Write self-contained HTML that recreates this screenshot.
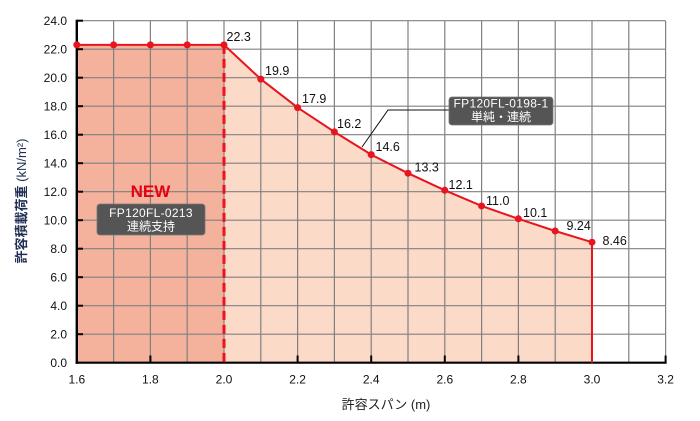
<!DOCTYPE html>
<html><head><meta charset="utf-8"><style>
html,body{margin:0;padding:0;background:#fff;}
svg{display:block;}
text{font-family:"Liberation Sans","Noto Sans CJK JP",sans-serif;}
</style></head><body>
<svg width="700" height="421" viewBox="0 0 700 421" xmlns="http://www.w3.org/2000/svg">
<!-- fills -->
<rect x="76.8" y="44.9" width="147.2" height="317.8" fill="#f4b19c"/>
<polygon fill="#fcdac8" points="224,44.9 260.8,79.1 297.6,107.6 334.4,131.9 371.2,154.65 408,173.2 444.8,190.3 481.6,205.95 518.4,218.8 555.2,231 592,242.2 592,362.7 224,362.7"/>
<!-- grid -->
<g stroke="#808080" stroke-width="1.2" fill="none">
<line x1="76.8" y1="20.7" x2="665.6" y2="20.7"/>
<line x1="76.8" y1="49.2" x2="665.6" y2="49.2"/>
<line x1="76.8" y1="77.7" x2="665.6" y2="77.7"/>
<line x1="76.8" y1="106.2" x2="665.6" y2="106.2"/>
<line x1="76.8" y1="134.7" x2="665.6" y2="134.7"/>
<line x1="76.8" y1="163.2" x2="665.6" y2="163.2"/>
<line x1="76.8" y1="191.7" x2="665.6" y2="191.7"/>
<line x1="76.8" y1="220.2" x2="665.6" y2="220.2"/>
<line x1="76.8" y1="248.7" x2="665.6" y2="248.7"/>
<line x1="76.8" y1="277.2" x2="665.6" y2="277.2"/>
<line x1="76.8" y1="305.7" x2="665.6" y2="305.7"/>
<line x1="76.8" y1="334.2" x2="665.6" y2="334.2"/>
<line x1="113.6" y1="20.7" x2="113.6" y2="362.7"/>
<line x1="150.4" y1="20.7" x2="150.4" y2="362.7"/>
<line x1="187.2" y1="20.7" x2="187.2" y2="362.7"/>
<line x1="224" y1="20.7" x2="224" y2="362.7"/>
<line x1="260.8" y1="20.7" x2="260.8" y2="362.7"/>
<line x1="297.6" y1="20.7" x2="297.6" y2="362.7"/>
<line x1="334.4" y1="20.7" x2="334.4" y2="362.7"/>
<line x1="371.2" y1="20.7" x2="371.2" y2="362.7"/>
<line x1="408" y1="20.7" x2="408" y2="362.7"/>
<line x1="444.8" y1="20.7" x2="444.8" y2="362.7"/>
<line x1="481.6" y1="20.7" x2="481.6" y2="362.7"/>
<line x1="518.4" y1="20.7" x2="518.4" y2="362.7"/>
<line x1="555.2" y1="20.7" x2="555.2" y2="362.7"/>
<line x1="592" y1="20.7" x2="592" y2="362.7"/>
<line x1="628.8" y1="20.7" x2="628.8" y2="362.7"/>
<line x1="665.6" y1="20.7" x2="665.6" y2="362.7"/>
</g>
<!-- axes -->
<g stroke="#000" fill="none">
<line x1="76.8" y1="19.7" x2="76.8" y2="363.7" stroke-width="2.4"/>
<line x1="75.6" y1="362.7" x2="666.6" y2="362.7" stroke-width="2.2"/>
<g stroke-width="2">
<line x1="76.8" y1="20.7" x2="83" y2="20.7"/>
<line x1="76.8" y1="49.2" x2="83" y2="49.2"/>
<line x1="76.8" y1="77.7" x2="83" y2="77.7"/>
<line x1="76.8" y1="106.2" x2="83" y2="106.2"/>
<line x1="76.8" y1="134.7" x2="83" y2="134.7"/>
<line x1="76.8" y1="163.2" x2="83" y2="163.2"/>
<line x1="76.8" y1="191.7" x2="83" y2="191.7"/>
<line x1="76.8" y1="220.2" x2="83" y2="220.2"/>
<line x1="76.8" y1="248.7" x2="83" y2="248.7"/>
<line x1="76.8" y1="277.2" x2="83" y2="277.2"/>
<line x1="76.8" y1="305.7" x2="83" y2="305.7"/>
<line x1="76.8" y1="334.2" x2="83" y2="334.2"/>
<line x1="150.4" y1="362.7" x2="150.4" y2="355.5"/>
<line x1="224" y1="362.7" x2="224" y2="355.5"/>
<line x1="297.6" y1="362.7" x2="297.6" y2="355.5"/>
<line x1="371.2" y1="362.7" x2="371.2" y2="355.5"/>
<line x1="444.8" y1="362.7" x2="444.8" y2="355.5"/>
<line x1="518.4" y1="362.7" x2="518.4" y2="355.5"/>
<line x1="592" y1="362.7" x2="592" y2="355.5"/>
<line x1="665.6" y1="362.7" x2="665.6" y2="355.5"/>
</g>
</g>
<!-- red series -->
<g stroke="#e8141e" fill="none" stroke-width="2">
<polyline points="76.8,44.9 224,44.9 260.8,79.1 297.6,107.6 334.4,131.9 371.2,154.65 408,173.2 444.8,190.3 481.6,205.95 518.4,218.8 555.2,231 592,242.2 592,362.7"/>
<line x1="224" y1="44.9" x2="224" y2="362.7" stroke-width="3" stroke-dasharray="9,5"/>
</g>
<g fill="#e8141e">
<circle cx="76.8" cy="44.9" r="3.5"/><circle cx="113.6" cy="44.9" r="3.5"/><circle cx="150.4" cy="44.9" r="3.5"/><circle cx="187.2" cy="44.9" r="3.5"/><circle cx="224" cy="44.9" r="3.5"/>
<circle cx="260.8" cy="79.1" r="3.5"/><circle cx="297.6" cy="107.6" r="3.5"/><circle cx="334.4" cy="131.9" r="3.5"/><circle cx="371.2" cy="154.65" r="3.5"/><circle cx="408" cy="173.2" r="3.5"/><circle cx="444.8" cy="190.3" r="3.5"/><circle cx="481.6" cy="205.95" r="3.5"/><circle cx="518.4" cy="218.8" r="3.5"/><circle cx="555.2" cy="231" r="3.5"/><circle cx="592" cy="242.2" r="3.5"/>
</g>
<!-- data labels -->
<g font-size="12.5" fill="#111">
<text x="226.5" y="41">22.3</text>
<text x="265" y="75">19.9</text>
<text x="302" y="103">17.9</text>
<text x="337" y="128">16.2</text>
<text x="375.5" y="151">14.6</text>
<text x="414.5" y="171.5">13.3</text>
<text x="448.5" y="189">12.1</text>
<text x="486" y="205">11.0</text>
<text x="523" y="217">10.1</text>
<text x="566.5" y="230">9.24</text>
<text x="602.5" y="245">8.46</text>
</g>
<!-- y tick labels -->
<g font-size="12" fill="#111" text-anchor="end">
<text x="67" y="25">24.0</text>
<text x="67" y="53.5">22.0</text>
<text x="67" y="82">20.0</text>
<text x="67" y="110.5">18.0</text>
<text x="67" y="139">16.0</text>
<text x="67" y="167.5">14.0</text>
<text x="67" y="196">12.0</text>
<text x="67" y="224.5">10.0</text>
<text x="67" y="253">8.0</text>
<text x="67" y="281.5">6.0</text>
<text x="67" y="310">4.0</text>
<text x="67" y="338.5">2.0</text>
<text x="67" y="367">0.0</text>
</g>
<!-- x tick labels -->
<g font-size="12" fill="#111" text-anchor="middle">
<text x="76.8" y="383.5">1.6</text>
<text x="150.4" y="383.5">1.8</text>
<text x="224" y="383.5">2.0</text>
<text x="297.6" y="383.5">2.2</text>
<text x="371.2" y="383.5">2.4</text>
<text x="444.8" y="383.5">2.6</text>
<text x="518.4" y="383.5">2.8</text>
<text x="592" y="383.5">3.0</text>
<text x="665.6" y="383.5">3.2</text>
</g>
<!-- axis titles -->
<text x="386" y="409" font-size="13" fill="#222" text-anchor="middle">許容スパン (m)</text>
<text transform="translate(26,201) rotate(-90)" font-size="13" fill="#1f2e52" text-anchor="middle" font-weight="bold">許容積載荷重 <tspan font-weight="normal">(kN/m²)</tspan></text>
<!-- NEW box -->
<text x="150.5" y="197" font-size="17" font-weight="bold" fill="#e60012" text-anchor="middle">NEW</text>
<rect x="97" y="204" width="108" height="31" rx="3" fill="#555" stroke="#777" stroke-width="0.8"/>
<text x="151" y="217" font-size="12" fill="#fff" text-anchor="middle" letter-spacing="0.3">FP120FL-0213</text>
<text x="151" y="230.5" font-size="12" fill="#fff" text-anchor="middle">連続支持</text>
<!-- second box -->
<polyline points="449,110 388,110 362,147" fill="none" stroke="#111" stroke-width="1"/>
<rect x="449" y="97" width="104" height="28" rx="3" fill="#555" stroke="#777" stroke-width="0.8"/>
<text x="501" y="107.5" font-size="12" fill="#fff" text-anchor="middle" letter-spacing="0.3">FP120FL-0198-1</text>
<text x="501" y="121" font-size="12" fill="#fff" text-anchor="middle">単純・連続</text>
</svg>
</body></html>
